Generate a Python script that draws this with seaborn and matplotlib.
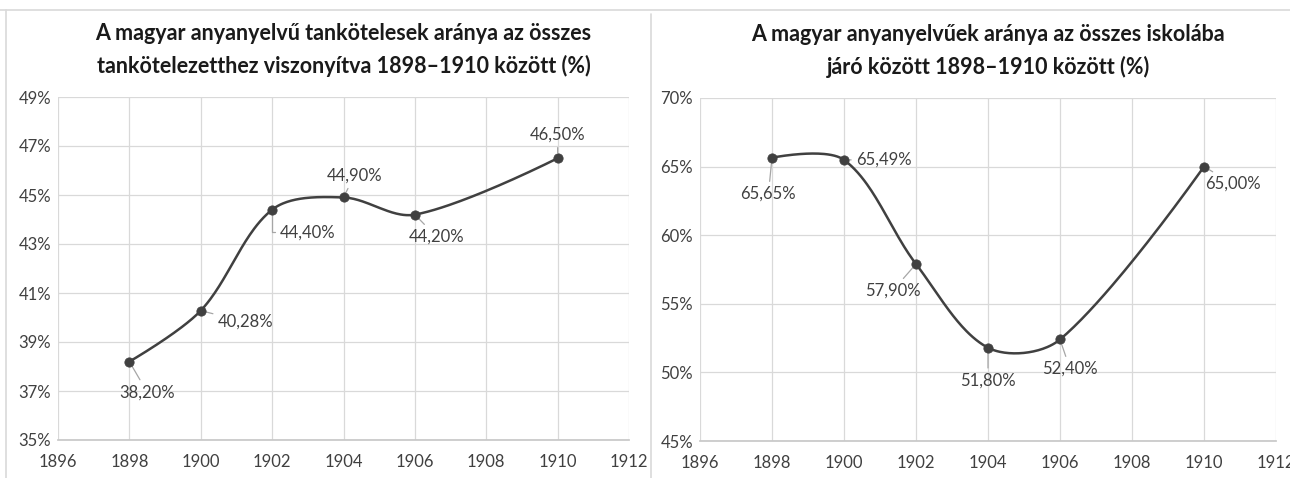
import numpy as np
import pandas as pd
import matplotlib
matplotlib.use("Agg")
import matplotlib.pyplot as plt
from matplotlib.ticker import FuncFormatter
from matplotlib.lines import Line2D
import seaborn as sns

# data
years = [1898, 1900, 1902, 1904, 1906, 1910]
share_obliged = [38.20, 40.28, 44.40, 44.90, 44.20, 46.50]
share_attending = [65.65, 65.49, 57.90, 51.80, 52.40, 65.00]

title_left = "A magyar anyanyelvű tankötelesek aránya az összes\ntankötelezetthez viszonyítva 1898–1910 között (%)"
title_right = "A magyar anyanyelvűek aránya az összes iskolába\njáró között 1898–1910 között (%)"

LINE = "#404040"
GRID = "#d9d9d9"
TICK = "#404040"
LEADER = "#a6a6a6"


def smooth(xs, ys, sx, sy, n=50):
    # Excel-like smoothed line, control points scaled by segment lengths in pixel space
    p = np.column_stack([np.asarray(xs) * sx, np.asarray(ys) * sy]).astype(float)
    m = len(p)
    d = np.linalg.norm(np.diff(p, axis=0), axis=1)
    t = np.linspace(0, 1, n)[:, None]
    out = []
    for i in range(m - 1):
        p0, p1 = p[i], p[i + 1]
        if i == 0:
            c1 = p0.copy()
        else:
            c1 = p0 + (p[i + 1] - p[i - 1]) * d[i] / (d[i - 1] + d[i]) / 3
        if i == m - 2:
            c2 = p1.copy()
        else:
            c2 = p1 - (p[i + 2] - p[i]) * d[i] / (d[i] + d[i + 1]) / 3
        seg = ((1 - t) ** 3) * p0 + 3 * ((1 - t) ** 2) * t * c1 + 3 * (1 - t) * t ** 2 * c2 + t ** 3 * p1
        out.append(seg if i == 0 else seg[1:])
    out = np.vstack(out)
    return pd.DataFrame({"year": out[:, 0] / sx, "value": out[:, 1] / sy})


def pct_label(v):
    return f"{v:.2f}".replace(".", ",") + "%"


def draw(ax, values, ylim, ystep, title, offsets, width_px, height_px):
    df = pd.DataFrame({"year": years, "value": values})
    sx = width_px / 16
    sy = height_px / (ylim[1] - ylim[0])
    sns.lineplot(data=smooth(years, values, sx, sy), x="year", y="value", ax=ax,
                 color=LINE, lw=1.8, sort=False, estimator=None)
    sns.scatterplot(data=df, x="year", y="value", ax=ax, color=LINE,
                    s=45, edgecolor=LINE, zorder=5)
    ax.set_xlim(1896, 1912)
    ax.set_ylim(*ylim)
    ax.set_xticks(range(1896, 1913, 2))
    ax.set_yticks(np.arange(ylim[0], ylim[1] + 0.1, ystep))
    ax.yaxis.set_major_formatter(FuncFormatter(lambda v, _: f"{v:.0f}%"))
    ax.grid(True, color=GRID, lw=0.9)
    ax.set_axisbelow(True)
    for s in ["top", "right", "left"]:
        ax.spines[s].set_visible(False)
    ax.spines["bottom"].set_color("#c8c8c8")
    ax.tick_params(length=0, labelsize=12, labelcolor=TICK, pad=5)
    ax.tick_params(axis="x", pad=10)
    ax.set_xlabel("")
    ax.set_ylabel("")
    ax.set_title(title, fontsize=15.5, fontweight="bold", color="#1a1a1a",
                 pad=17, linespacing=1.6)
    for x, v, (dx, dy, cs) in zip(years, values, offsets):
        ax.annotate(pct_label(v), xy=(x, v), xytext=(x + dx, v + dy),
                    ha="center", va="center", fontsize=12, color=TICK,
                    arrowprops=dict(arrowstyle="-", color=LEADER, lw=0.9,
                                    shrinkA=1, shrinkB=4, connectionstyle=cs))


sns.set_theme(style="white")
plt.rcParams["font.family"] = ["Lato", "DejaVu Sans"]

fig = plt.figure(figsize=(12.9, 4.78), dpi=100)
ax1 = fig.add_axes([58 / 1290, 38 / 478, 571 / 1290, 343 / 478])
ax2 = fig.add_axes([700 / 1290, 37 / 478, 576 / 1290, 343 / 478])

straight = "arc3"
off_left = [(0.5, -1.25, straight), (1.25, -0.46, straight),
            (1.0, -0.92, "angle,angleA=0,angleB=90,rad=0"),
            (0.3, 0.88, straight), (0.6, -0.9, straight), (0.0, 0.95, straight)]
off_right = [(-0.1, -2.65, straight), (1.1, 0.0, straight), (-0.65, -1.95, straight),
             (0.0, -2.4, straight), (0.28, -2.15, straight), (0.8, -1.25, straight)]

draw(ax1, share_obliged, (35, 49), 2, title_left, off_left, 571, 343)
draw(ax2, share_attending, (45, 70), 5, title_right, off_right, 576, 343)

# chart frames
fig.add_artist(Line2D([0, 1], [1 - 10 / 478] * 2, color=GRID, lw=1.2, transform=fig.transFigure))
fig.add_artist(Line2D([6 / 1290] * 2, [0, 1 - 10 / 478], color=GRID, lw=1.2, transform=fig.transFigure))
fig.add_artist(Line2D([651 / 1290] * 2, [0, 1 - 14 / 478], color=GRID, lw=1.2, transform=fig.transFigure))

fig.savefig("out.png", dpi=100, facecolor="white")
